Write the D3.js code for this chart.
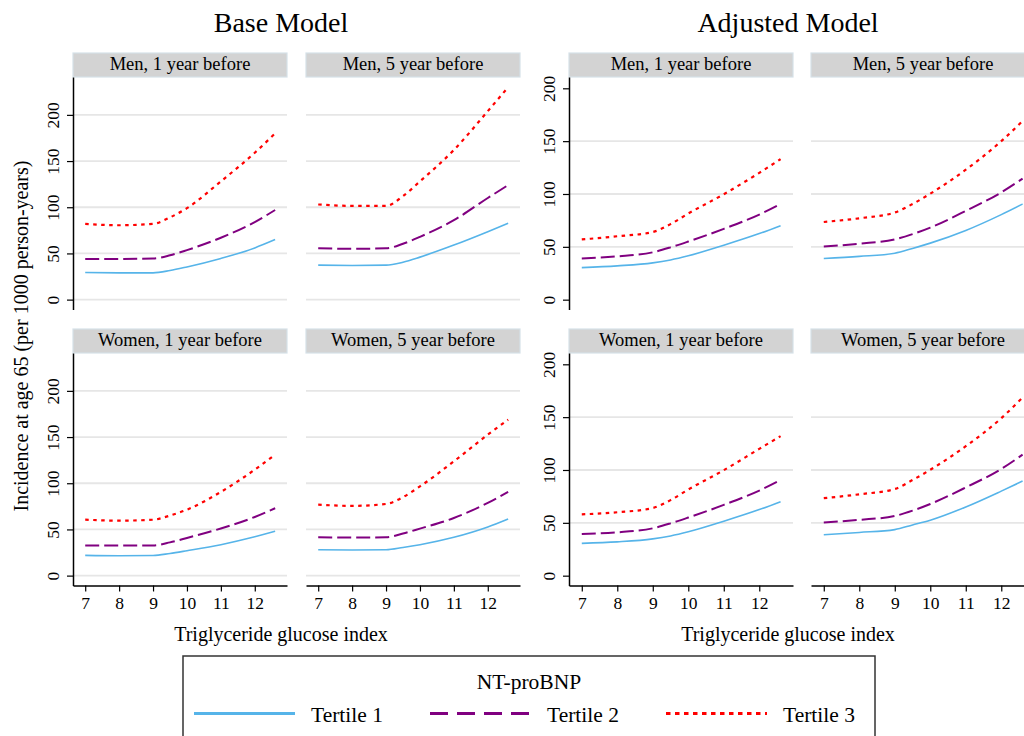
<!DOCTYPE html>
<html>
  <head>
    <meta charset="utf-8">
    <title>Incidence by triglyceride glucose index</title>
    <script src="https://d3js.org/d3.v7.min.js"></script>
    <style>
      body { margin: 0; background: #fff; }
      svg text { font-family: "Liberation Serif", "Times New Roman", serif; fill: #000; }
    </style>
  </head>
  <body>
    <div id="chart"></div>
    <script>
      // x values where the curves were read
      const tgIndex = [7, 8, 9, 9.5, 10, 11, 12, 12.6];
      const xTicks = [7, 8, 9, 10, 11, 12];
      const yTicks = [0, 50, 100, 150, 200];
      const tertiles = ["Tertile 1", "Tertile 2", "Tertile 3"];
      const panelTitles = ["Men, 1 year before", "Men, 5 year before", "Women, 1 year before", "Women, 5 year before"];

      // base model, [tertile1, tertile2, tertile3]
      const baseMen1 = [
        [29.3, 29, 29, 31.5, 35.4, 44.6, 56, 65],
        [44, 44, 44.5, 48, 53.6, 67, 84, 97],
        [82, 80.5, 82, 89, 99, 128, 159, 180]
      ];
      const baseMen5 = [
        [37.3, 37, 37.3, 40.5, 46, 59, 73.5, 82.6],
        [55.5, 55, 55.5, 60.5, 68, 86, 110, 124],
        [103, 101.5, 101.5, 112, 128, 162, 204, 230]
      ];
      const baseWomen1 = [
        [21.9, 21.5, 21.7, 24, 27, 33.5, 42, 48],
        [32.5, 32.5, 32.7, 36, 40.8, 51, 63.5, 73],
        [60.6, 59.5, 60.5, 65, 71.4, 90.6, 114.7, 131]
      ];
      const baseWomen5 = [
        [28, 27.7, 28, 30.5, 33.5, 41.5, 52.7, 61.4],
        [41.5, 41.3, 41.5, 45.5, 50.9, 62.4, 78.7, 90.6],
        [76.8, 75.5, 77.6, 85, 96.6, 123.7, 152.6, 168.8]
      ];
      // adjusted model
      const adjMen1 = [
        [30.3, 32, 34.8, 37.6, 41.5, 51.5, 62.5, 70],
        [39, 41, 44.8, 49.5, 55, 67, 80.5, 90.5],
        [57, 60, 64, 71.5, 81.5, 99.8, 120, 133]
      ];
      const adjMen5 = [
        [38.9, 41, 44, 48.5, 53.5, 65.5, 80.5, 90.5],
        [50.2, 53, 57, 62, 68.2, 84, 101.5, 114.5],
        [73.5, 77, 82.5, 90.5, 100.3, 123, 150, 169]
      ];
      const adjWomen1 = [
        [30.6, 32, 34.8, 37.6, 41.5, 51.5, 62.5, 70],
        [39.5, 41, 44.8, 49.5, 55, 67, 80.5, 90.5],
        [58, 60, 64, 71.5, 81.5, 99.8, 120, 132]
      ];
      const adjWomen5 = [
        [38.7, 40.9, 43.6, 48, 52.5, 65, 80, 89.5],
        [50.3, 52.8, 56.5, 61.5, 67.8, 83.5, 101, 114.5],
        [73.3, 77, 82, 90.5, 100.2, 122.5, 149, 168.5]
      ];

      const width = 1024, height = 736;
      const svg = d3.select("#chart").append("svg")
        .attr("width", width)
        .attr("height", height);

      const colors = ["#56b4e9", "#800080", "#ff0000"];
      const dashes = [null, "14,5", "3.5,4.5"];
      const widths = [1.6, 2, 2.2];

      const stripTops = [53, 329];
      const stripH = 24;
      const plotH = 232.5;

      const graphs = [
        { title: "Base Model", cx: 281, cols: [73, 306], w: 214, yDomain: [-10.7, 241], grid: [0, 50, 100, 150, 200],
          data: [baseMen1, baseMen5, baseWomen1, baseWomen5] },
        { title: "Adjusted Model", cx: 788, cols: [569, 811], w: 224, yDomain: [-9.3, 210.7], grid: [50, 100, 150],
          data: [adjMen1, adjMen5, adjWomen1, adjWomen5] }
      ];

      graphs.forEach(function(g) {
        svg.append("text")
          .attr("x", g.cx).attr("y", 32)
          .attr("text-anchor", "middle")
          .style("font-size", "28px")
          .text(g.title);

        g.data.forEach(function(series, i) {
          let row = Math.floor(i / 2), col = i % 2;
          let x0 = g.cols[col], top = stripTops[row] + stripH;
          let x = d3.scaleLinear().domain([6.64, 12.95]).range([x0, x0 + g.w]);
          let y = d3.scaleLinear().domain(g.yDomain).range([top + plotH, top]);
          let panel = svg.append("g");

          // strip header
          panel.append("rect")
            .attr("x", x0).attr("y", stripTops[row])
            .attr("width", g.w).attr("height", stripH)
            .attr("fill", "#d3d3d3")
            .attr("stroke", "#d6e1e8").attr("stroke-width", 1.2);
          panel.append("text")
            .attr("x", x0 + g.w / 2).attr("y", stripTops[row] + 16.8)
            .attr("text-anchor", "middle")
            .style("font-size", "18.5px")
            .text(panelTitles[i]);

          // gridlines
          panel.selectAll(".grid")
            .data(g.grid)
            .enter().append("line")
              .attr("x1", x0).attr("x2", x0 + g.w)
              .attr("y1", d => y(d)).attr("y2", d => y(d))
              .attr("stroke", "#e6e6e6").attr("stroke-width", 1.8);

          // curves
          let line = d3.line()
            .x((d, k) => x(tgIndex[k]))
            .y(d => y(d))
            .curve(d3.curveMonotoneX);
          series.forEach(function(vals, t) {
            panel.append("path")
              .attr("d", line(vals))
              .attr("fill", "none")
              .attr("stroke", colors[t])
              .attr("stroke-width", widths[t])
              .attr("stroke-dasharray", dashes[t]);
          });

          // y axis on left column
          if (col == 0) {
            let ya = panel.append("g")
              .attr("transform", "translate(" + x0 + ",0)")
              .call(d3.axisLeft(y).tickValues(yTicks).tickFormat(d3.format("d")).tickSize(6).tickSizeOuter(0));
            ya.select(".domain").attr("stroke", "#000").attr("stroke-width", 1.5);
            ya.selectAll(".tick line").attr("stroke", "#000").attr("stroke-width", 1.2);
            ya.selectAll(".tick text")
              .attr("transform", "rotate(-90)")
              .attr("x", 0).attr("y", -14).attr("dy", null)
              .attr("text-anchor", "middle")
              .style("font-size", "17.5px")
              .style("font-family", "Liberation Serif");
          }
          // x axis on bottom row
          if (row == 1) {
            let xa = panel.append("g")
              .attr("transform", "translate(0," + (top + plotH) + ")")
              .call(d3.axisBottom(x).tickValues(xTicks).tickFormat(d3.format("d")).tickSize(6).tickSizeOuter(0));
            xa.select(".domain").attr("stroke", "#000").attr("stroke-width", 1.5);
            xa.selectAll(".tick line").attr("stroke", "#000").attr("stroke-width", 1.2);
            xa.selectAll(".tick text")
              .attr("y", 23).attr("dy", null)
              .style("font-size", "17.5px")
              .style("font-family", "Liberation Serif");
          }
        });

        svg.append("text")
          .attr("x", g.cx).attr("y", 641)
          .attr("text-anchor", "middle")
          .style("font-size", "20px")
          .text("Triglyceride glucose index");
      });

      // shared y title
      svg.append("text")
        .attr("transform", "translate(28,336) rotate(-90)")
        .attr("text-anchor", "middle")
        .style("font-size", "20px")
        .text("Incidence at age 65 (per 1000 person-years)");

      // legend
      let legend = svg.append("g");
      legend.append("rect")
        .attr("x", 183).attr("y", 656)
        .attr("width", 692).attr("height", 100)
        .attr("fill", "#fff")
        .attr("stroke", "#333").attr("stroke-width", 1.5);
      legend.append("text")
        .attr("x", 529).attr("y", 689)
        .attr("text-anchor", "middle")
        .style("font-size", "21.5px")
        .text("NT-proBNP");
      let legendX = [194, 430, 666];
      tertiles.forEach(function(name, t) {
        legend.append("line")
          .attr("x1", legendX[t]).attr("x2", legendX[t] + 101)
          .attr("y1", 713.5).attr("y2", 713.5)
          .attr("stroke", colors[t])
          .attr("stroke-width", 3)
          .attr("stroke-dasharray", t == 1 ? "18,9" : t == 2 ? "4.5,4.5" : null);
        legend.append("text")
          .attr("x", legendX[t] + 117).attr("y", 722)
          .style("font-size", "21.5px")
          .text(name);
      });
    </script>
  </body>
</html>
